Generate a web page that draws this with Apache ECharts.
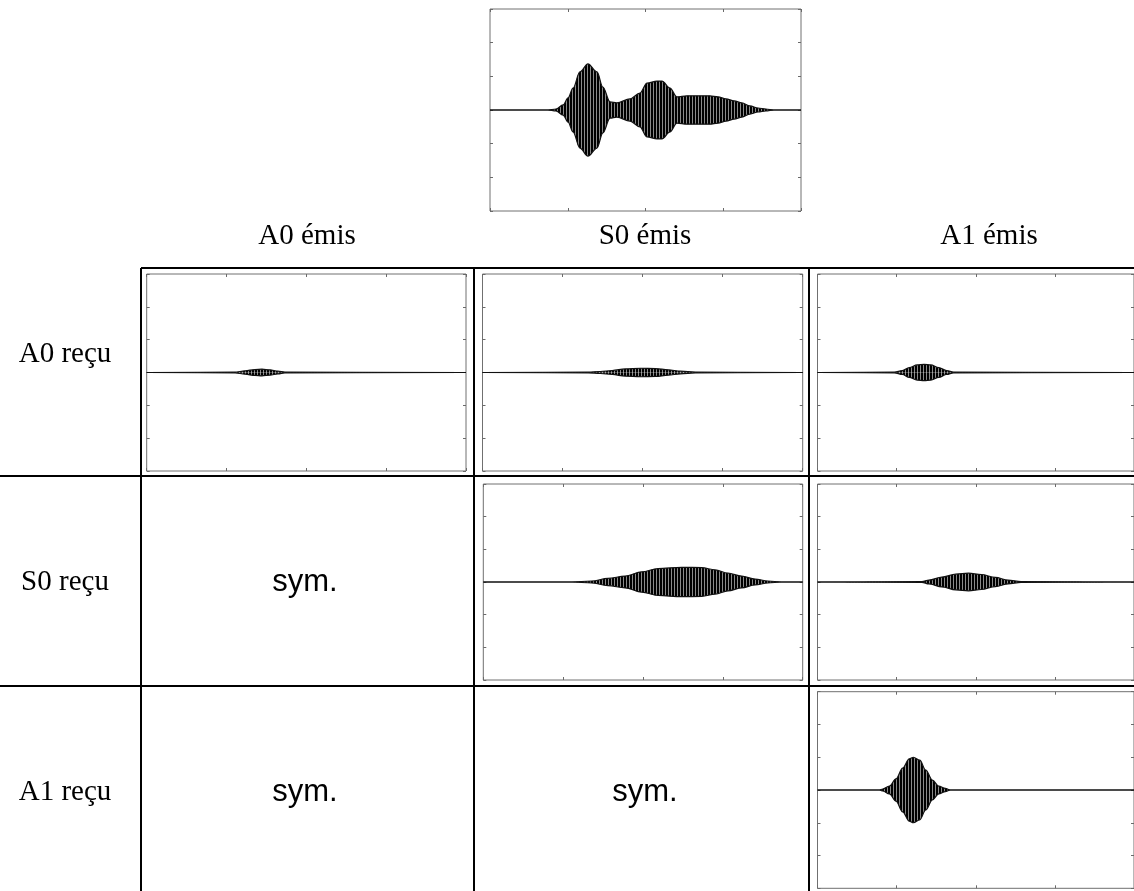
<!DOCTYPE html>
<html>
<head>
<meta charset="utf-8">
<script src="https://cdn.jsdelivr.net/npm/echarts@6/dist/echarts.min.js"></script>
<style>
html,body{margin:0;padding:0;background:#fff;}
#chart{width:1134px;height:891px;}
</style>
</head>
<body>
<div id="chart"></div>
<script>
// ---------- DATA (envelope of each received wave packet) ----------
const colHeaders = ['A0 émis', 'S0 émis', 'A1 émis'];
const rowHeaders = ['A0 reçu', 'S0 reçu', 'A1 reçu'];
const symText = 'sym.';

// top plot: total signal
const topX   = [0, 18.6, 21.2, 23.5, 25.1, 26.7, 28.9, 31.5, 34.4, 36.3, 38.6, 40.8, 45.0, 48.2, 50.5, 53.7, 55.3, 57.9, 60.1, 63.3, 67.5, 70.7, 73.3, 75.9, 78.5, 81.0, 83.6, 86.2, 88.7, 91.3, 100];
const topEnv = [0, 0,    0.03, 0.15, 0.36, 0.65, 1.13, 1.37, 1.13, 0.68, 0.24, 0.21, 0.33, 0.5,  0.8,  0.86, 0.86, 0.65, 0.39, 0.42, 0.42, 0.42, 0.39, 0.33, 0.27, 0.21, 0.12, 0.06, 0.03, 0,    0];

// A0 reçu / A0 émis
const a0a0X   = [0, 27.7, 30.8, 33.9, 36.1, 38.6, 41.1, 43.3, 100];
const a0a0Env = [0, 0.01, 0.05, 0.09, 0.10, 0.08, 0.04, 0.01, 0];
// A0 reçu / S0 émis
const a0s0X   = [0, 33.0, 36.8, 40.5, 44.6, 49.3, 54.0, 58.0, 61.8, 66.5, 100];
const a0s0Env = [0, 0.01, 0.03, 0.06, 0.11, 0.13, 0.12, 0.08, 0.04, 0.01, 0];
// A0 reçu / A1 émis
const a0a1X   = [0, 24.3, 26.8, 29.0, 31.5, 33.7, 35.8, 38.3, 40.8, 43.0, 100];
const a0a1Env = [0, 0.01, 0.06, 0.15, 0.23, 0.25, 0.23, 0.15, 0.06, 0.01, 0];
// S0 reçu / S0 émis
const s0s0X   = [0, 27.7, 33.9, 39.0, 44.4, 49.6, 54.7, 62.1, 68.4, 72.6, 76.6, 80.9, 85.1, 89.1, 93.4, 100];
const s0s0Env = [0, 0,    0.03, 0.11, 0.18, 0.31, 0.41, 0.45, 0.44, 0.37, 0.27, 0.18, 0.09, 0.03, 0,    0];
// S0 reçu / A1 émis
const s0a1X   = [0, 33.0, 35.2, 39.3, 43.7, 47.7, 51.8, 56.2, 60.2, 64.3, 100];
const s0a1Env = [0, 0.01, 0.06, 0.15, 0.24, 0.27, 0.23, 0.14, 0.06, 0.01, 0];
// A1 reçu / A1 émis
const a1a1X   = [0, 19.6, 20.6, 22.7, 24.8, 26.9, 29.0, 30.3, 32.3, 34.2, 36.3, 38.3, 40.4, 42.0, 100];
const a1a1Env = [0, 0,    0.03, 0.12, 0.34, 0.67, 0.95, 1.0,  0.91, 0.61, 0.30, 0.12, 0.05, 0,    0];

const xTicks = {min: 0, max: 100, interval: 25};
const yTicks = {min: -3, max: 3, interval: 1};

// ---------- LAYOUT ----------
const panels = [
  {x: topX,  env: topEnv,  left: 490,   top: 9,     width: 311,   height: 202},
  {x: a0a0X, env: a0a0Env, left: 146.7, top: 274,   width: 319.3, height: 197},
  {x: a0s0X, env: a0s0Env, left: 482.5, top: 274,   width: 320.2, height: 197},
  {x: a0a1X, env: a0a1Env, left: 817.5, top: 274,   width: 320,   height: 197},
  {x: s0s0X, env: s0s0Env, left: 483.3, top: 484,   width: 319.4, height: 196},
  {x: s0a1X, env: s0a1Env, left: 817.5, top: 484,   width: 320,   height: 196},
  {x: a1a1X, env: a1a1Env, left: 817.5, top: 691.7, width: 320,   height: 196.6}
];

// vertical hatch pattern imitating the dense carrier oscillation
const pat = document.createElement('canvas');
pat.width = 3; pat.height = 4;
const pctx = pat.getContext('2d');
pctx.fillStyle = '#000'; pctx.fillRect(0, 0, 2, 4);
pctx.fillStyle = '#8a8a8a'; pctx.fillRect(2, 0, 1, 4);
const fill = {image: pat, repeat: 'repeat'};

const grids = [], xAxes = [], yAxes = [], series = [];
const tickStyle = {inside: true, length: 3, lineStyle: {color: '#6a6a6a', width: 1}};
panels.forEach((p, i) => {
  grids.push({left: p.left, top: p.top, width: p.width, height: p.height,
    show: true, borderColor: '#707070', borderWidth: 1, backgroundColor: 'transparent', containLabel: false});
  ['bottom', 'top'].forEach(pos => xAxes.push({
    gridIndex: i, type: 'value', position: pos, min: xTicks.min, max: xTicks.max, interval: xTicks.interval,
    axisLine: {show: false, onZero: false}, axisTick: tickStyle, axisLabel: {show: false}, splitLine: {show: false}
  }));
  ['left', 'right'].forEach(pos => yAxes.push({
    gridIndex: i, type: 'value', position: pos, min: yTicks.min, max: yTicks.max, interval: yTicks.interval,
    axisLine: {show: false, onZero: false}, axisTick: tickStyle, axisLabel: {show: false}, splitLine: {show: false}
  }));
  const up = p.x.map((x, k) => [x, p.env[k]]);
  const dn = p.x.map((x, k) => [x, -p.env[k]]);
  [up, dn].forEach(d => series.push({
    type: 'line', xAxisIndex: 2 * i, yAxisIndex: 2 * i, data: d, showSymbol: false, symbol: 'none',
    smooth: 0.35, smoothMonotone: 'x',
    lineStyle: {color: '#111', width: 1.2}, areaStyle: {color: fill, opacity: 1, origin: 0},
    silent: true, animation: false
  }));
});

// table lines & text
const graphics = [];
const L = (x1, y1, x2, y2) => graphics.push({type: 'line', shape: {x1, y1, x2, y2}, style: {stroke: '#000', lineWidth: 2}, silent: true});
L(141, 268, 1134, 268);
L(0, 476, 1134, 476);
L(0, 686, 1134, 686);
L(141, 268, 141, 891);
L(474, 268, 474, 891);
L(809, 268, 809, 891);

const T = (text, x, y, font) => graphics.push({type: 'text', x, y, silent: true,
  style: {text, font, fill: '#000', textAlign: 'center', textVerticalAlign: 'middle'}});
const serif = '29px "Liberation Serif", "Times New Roman", serif';
const sans = '31px "Liberation Sans", Arial, sans-serif';
const colX = [307, 645, 989];
colHeaders.forEach((t, i) => T(t, colX[i], 236, serif));
const rowY = [354, 582, 792];
rowHeaders.forEach((t, i) => T(t, 65, rowY[i], serif));
T(symText, 305, 582, sans);
T(symText, 305, 792, sans);
T(symText, 645, 792, sans);

const chart = echarts.init(document.getElementById('chart'), null, {renderer: 'canvas'});
chart.setOption({
  animation: false,
  backgroundColor: '#fff',
  grid: grids, xAxis: xAxes, yAxis: yAxes, series: series,
  graphic: graphics
});
</script>
</body>
</html>
